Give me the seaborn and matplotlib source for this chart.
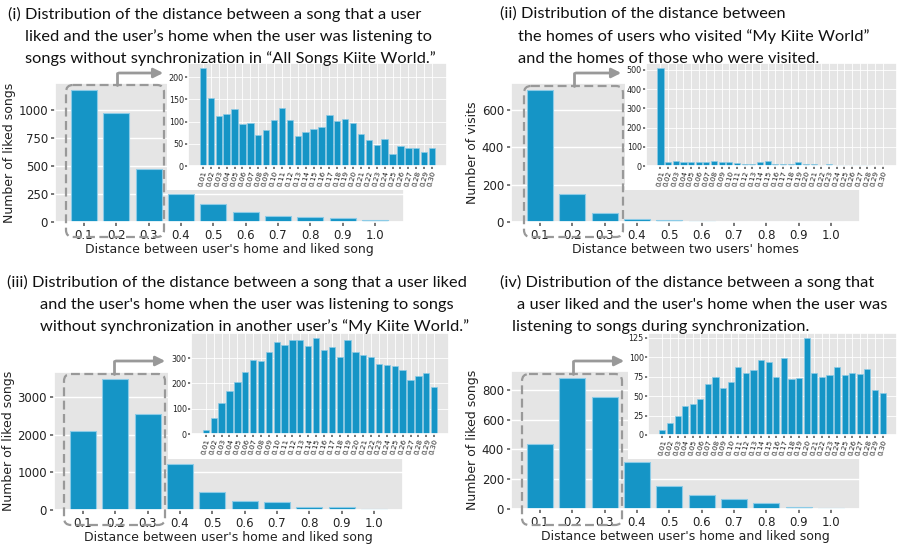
import seaborn as sns
from matplotlib import pyplot as plt
from matplotlib.patches import Rectangle, FancyBboxPatch, FancyArrowPatch
from matplotlib.lines import Line2D
from matplotlib.transforms import Affine2D
from matplotlib.ticker import MultipleLocator

# coarse bins (0.1 steps) and fine bins (0.01 steps, first 0.3 only)
main_labels = ['0.1', '0.2', '0.3', '0.4', '0.5', '0.6', '0.7', '0.8', '0.9', '1.0']
fine_labels = ['%.2f' % (i / 100) for i in range(1, 31)]

liked_all_main = [1177, 973, 473, 246, 160, 86, 56, 44, 38, 18]
liked_all_fine = [221, 153, 112, 117, 128, 95, 98, 70, 80, 104,
                  131, 104, 68, 77, 83, 88, 116, 101, 107, 96,
                  71, 58, 47, 61, 28, 44, 41, 41, 32, 41]

visits_main = [709, 150, 50, 14, 9, 5, 0, 0, 0, 0]
visits_fine = [510, 23, 26, 21, 21, 21, 21, 28, 19, 23,
               14, 12, 12, 21, 26, 12, 12, 9, 21, 12,
               8, 5, 12, 4, 3, 3, 7, 3, 2, 0]

liked_other_main = [2094, 3497, 2565, 1230, 479, 243, 217, 86, 68, 34]
liked_other_fine = [17, 63, 122, 170, 207, 246, 294, 290, 324, 363,
                    351, 370, 373, 349, 380, 333, 344, 306, 371, 324,
                    312, 306, 278, 272, 270, 251, 214, 230, 242, 187]

liked_sync_main = [435, 882, 749, 313, 155, 93, 69, 42, 15, 4]
liked_sync_fine = [6, 16, 24, 37, 40, 46, 65, 74, 61, 68,
                   87, 80, 84, 96, 94, 74, 99, 72, 73, 125,
                   80, 74, 77, 87, 77, 80, 79, 85, 58, 54]

W, H = 906, 547
BAR = '#1595C6'
EDGE = '#8ccbe6'
GREY = '#999999'

sns.set_theme(style='darkgrid', rc={
    'axes.facecolor': '#E5E5E5',
    'grid.color': 'white',
    'xtick.bottom': True,
    'ytick.left': True,
    'xtick.major.size': 3,
    'ytick.major.size': 3,
    'xtick.color': '#666666',
    'ytick.color': '#666666',
    'xtick.labelcolor': '#222222',
    'ytick.labelcolor': '#222222',
    'axes.labelcolor': '#222222',
})
plt.rcParams['font.family'] = ['DejaVu Sans']

fig = plt.figure(figsize=(W / 100, H / 100), dpi=100)
# pixel coordinates measured from the top-left corner
px = Affine2D().scale(0.01, -0.01).translate(0, H / 100) + fig.dpi_scale_trans


def frac(left, top, right, bottom):
    return [left / W, 1 - bottom / H, (right - left) / W, (bottom - top) / H]


def draw_bars(ax, labels, values, step, lw):
    sns.barplot(x=labels, y=values, ax=ax, color=BAR, saturation=1, width=0.8,
                edgecolor=EDGE, linewidth=lw)
    pad = 0.4 + 0.05 * (len(labels) - 0.2)
    ax.set_xlim(-pad, len(labels) - 1 + pad)
    ax.yaxis.set_major_locator(MultipleLocator(step))


def draw_panel(main_box, inset_box, cover_box, dash_box, arrow, main_values, fine_values,
               main_step, fine_step, y_label, x_label, title_lines):
    ax = fig.add_axes(frac(*main_box))
    draw_bars(ax, main_labels, main_values, main_step, 0.8)
    ax.tick_params(labelsize=8.5, pad=2)
    ax.set_xlabel(x_label, fontsize=9, labelpad=1)
    ax.set_ylabel(y_label, fontsize=9, labelpad=2)

    # white backing behind the zoomed inset
    left, top, right, bottom = cover_box
    fig.add_artist(Rectangle((left, top), right - left, bottom - top, transform=px,
                             facecolor='white', edgecolor='none', zorder=1))

    inset = fig.add_axes(frac(*inset_box))
    inset.set_zorder(2)
    draw_bars(inset, fine_labels, fine_values, fine_step, 0.5)
    inset.tick_params(axis='y', labelsize=5.8, pad=1, length=2)
    inset.tick_params(axis='x', labelsize=5.2, pad=1, length=2, labelrotation=75)
    inset.grid(linewidth=0.6)

    left, top, right, bottom = dash_box
    fig.add_artist(FancyBboxPatch((left, top), right - left, bottom - top, transform=px,
                                  boxstyle='round,pad=0,rounding_size=7', fill=False,
                                  edgecolor=GREY, linestyle=(0, (4, 2)), linewidth=1.6, zorder=3))
    x0, y0, y1, x1 = arrow
    fig.add_artist(Line2D([x0, x0], [y0, y1], transform=px, color=GREY, linewidth=2, zorder=3))
    fig.add_artist(FancyArrowPatch((x0 - 1, y1), (x1, y1), transform=px, arrowstyle='-|>',
                                   mutation_scale=14, color=GREY, linewidth=2, zorder=3))

    for x, y, text in title_lines:
        fig.text(x, y, text, transform=px, fontsize=11.8, family=['Lato', 'DejaVu Sans'],
                 color='#111111', va='center', ha='left')


draw_panel((55, 83, 404, 222), (188, 63, 447, 166), (167, 50, 452, 190), (66, 85, 164, 237),
           (117, 85, 73, 166), liked_all_main, liked_all_fine, 250, 50,
           'Number of liked songs', "Distance between user's home and liked song",
           [(8, 14, '(i) Distribution of the distance between a song that a user'),
            (25, 37, 'liked and the user\u2019s home when the user was listening to'),
            (25, 59, 'songs without synchronization in \u201cAll Songs Kiite World.\u201d')])

draw_panel((511, 83, 860, 222), (646, 63, 897, 166), (625, 50, 906, 190), (524, 86, 623, 237),
           (574, 86, 73, 624), visits_main, visits_fine, 200, 100,
           'Number of visits', "Distance between two users' homes",
           [(500, 14, '(ii) Distribution of the distance between'),
            (518, 37, 'the homes of users who visited \u201cMy Kiite World\u201d'),
            (518, 59, 'and the homes of those who were visited.')])

draw_panel((54, 372, 403, 510), (191, 333, 449, 434), (168, 320, 452, 459), (64, 374, 165, 525),
           (114, 374, 361, 168), liked_other_main, liked_other_fine, 1000, 100,
           'Number of liked songs', "Distance between user's home and liked song",
           [(7, 282, '(iii) Distribution of the distance between a song that a user liked'),
            (40, 305, "and the user's home when the user was listening to songs"),
            (40, 327, 'without synchronization in another user\u2019s \u201cMy Kiite World.\u201d')])

draw_panel((511, 371, 860, 509), (648, 333, 897, 435), (628, 320, 906, 459), (522, 374, 622, 525),
           (573, 374, 361, 627), liked_sync_main, liked_sync_fine, 200, 25,
           'Number of liked songs', "Distance between user's home and liked song",
           [(500, 282, '(iv) Distribution of the distance between a song that'),
            (517, 305, "a user liked and the user's home when the user was"),
            (512, 327, 'listening to songs during synchronization.')])

plt.savefig('out.png', dpi=100)
